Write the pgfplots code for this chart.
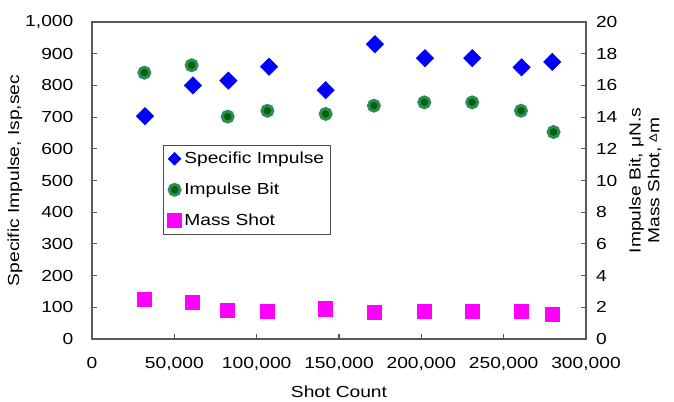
\documentclass[border=0pt]{standalone}
\usepackage{pgfplots}
\pgfplotsset{compat=1.18}
\usepackage{fontspec}
\setmainfont{Liberation Sans}[FakeStretch=1.2]
\definecolor{sgreen}{RGB}{46,139,87}
\definecolor{dgreen}{RGB}{0,100,0}
\definecolor{mag}{RGB}{255,0,255}
\definecolor{blu}{RGB}{0,0,255}
\begin{document}
\begin{tikzpicture}
\path[use as bounding box] (-69pt,-47.25pt) rectangle (436.5pt,254.25pt);
\pgfplotsset{every axis/.append style={
  scale only axis, width=370.5pt, height=237.75pt,
  at={(0,0)}, anchor=south west,
  xmin=0, xmax=300000, xtick={0,50000,...,300000},
  scaled ticks=false,
  /pgf/number format/fixed,
  /pgf/number format/1000 sep={,},
  /pgf/number format/assume math mode=true,
  font=\fontsize{12}{14}\selectfont,
  tick align=inside, major tick length=4pt,
  axis line style={black!65, line width=1pt},
  tick style={black!65, line width=0.8pt},
}}
\begin{axis}[
  ymin=0, ymax=1000, ytick={0,100,...,1000},
  xtick pos=bottom, ytick pos=left,
  xticklabel style={yshift=-10pt},
  yticklabel style={xshift=-10.5pt},
  xlabel={Shot Count},
  xlabel style={at={(axis description cs:0.5,-0.167)}, anchor=center},
  ylabel={Specific Impulse, Isp,sec},
  ylabel style={at={(axis description cs:-0.156,0.5)}, anchor=center},
]
\addplot[only marks, mark=square*, color=blu, mark size=4.6pt, mark options={rotate=45}] coordinates {
(32200,703) (61300,800) (82800,815) (107500,859) (141900,785)
(171800,930) (202200,886) (230900,886) (260900,857) (279500,874)};
\end{axis}
\begin{axis}[
  ymin=0, ymax=20, ytick={0,2,...,20},
  axis x line=none, axis y line*=right,
  yticklabel style={xshift=4pt},
  ylabel={Impulse Bit, μN.s\\Mass Shot, {\fontsize{8}{9}\selectfont\raisebox{0.45ex}{Δ}}m},
  ylabel style={align=center, at={(axis description cs:1.12,0.5)}, anchor=center},
  legend style={at={(0.144,0.612)}, anchor=north west, draw=black!70, line width=0.6pt,
    font=\fontsize{12}{14}\selectfont, row sep=9pt, inner sep=3pt},
  legend cell align=left,
]
\addlegendimage{only marks, mark=square*, color=blu, mark size=3.3pt, mark options={rotate=45}}
\addlegendentry{Specific Impulse}
\addplot[only marks, mark=*, mark size=4.1pt, mark options={fill=dgreen, draw=sgreen, line width=2.2pt}] coordinates {
(31800,16.8) (60500,17.27) (82400,14.03) (106500,14.4) (141900,14.2)
(171200,14.72) (201800,14.93) (230900,14.93) (260500,14.4) (280300,13.06)};
\addlegendentry{Impulse Bit}
\addplot[only marks, mark=square*, color=mag, mark size=5.3pt] coordinates {
(31800,2.5) (60700,2.29) (82400,1.81) (106500,1.75) (141900,1.91)
(171200,1.68) (201800,1.75) (230900,1.75) (260600,1.75) (279500,1.58)};
\addlegendentry{Mass Shot}
\end{axis}
\end{tikzpicture}
\end{document}
